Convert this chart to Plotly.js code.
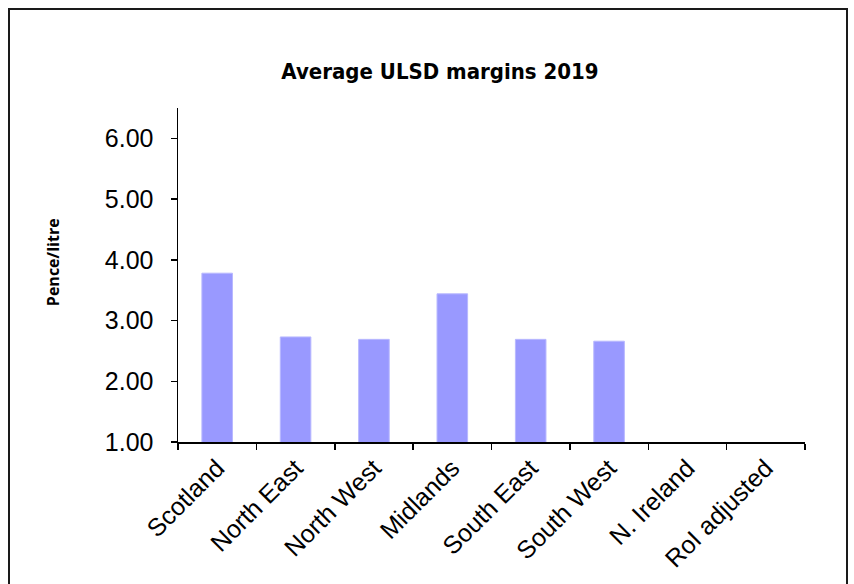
<!DOCTYPE html>
<html>
<head>
<meta charset="utf-8">
<script src="https://cdn.plot.ly/plotly-3.0.1.min.js"></script>
<style>html,body{margin:0;padding:0;background:#fff;}#chart{width:854px;height:584px;}</style>
</head>
<body>
<div id="chart"></div>
<script>
const categories = ["Scotland", "North East", "North West", "Midlands", "South East", "South West", "N. Ireland", "RoI adjusted"];
const margins = [3.78, 2.73, 2.69, 3.44, 2.69, 2.66, null, null];
const yTicks = [1, 2, 3, 4, 5, 6];
const yTickLabels = ["1.00", "2.00", "3.00", "4.00", "5.00", "6.00"];

const W = 854, H = 584;
const L = 178, R = 805, T = 108, B = 441.7;
const px = x => (x - L) / (R - L);
const py = y => (B - y) / (B - T);

const trace = {
  type: "bar",
  x: categories,
  y: margins,
  width: 0.39,
  marker: { color: "#9999ff", line: { color: "#b8b8ff", width: 1 } },
  hoverinfo: "x+y"
};

const layout = {
  width: W, height: H,
  margin: { l: L, r: W - R, t: T, b: H - B },
  paper_bgcolor: "#ffffff",
  plot_bgcolor: "#ffffff",
  showlegend: false,
  title: {
    text: "<b>Average ULSD margins 2019</b>",
    font: { family: "DejaVu Sans Condensed, Liberation Sans Narrow, sans-serif", size: 22, color: "#000" },
    x: 440 / W, xanchor: "center",
    y: 1 - 71 / H, yanchor: "middle"
  },
  xaxis: {
    type: "category",
    tickson: "boundaries",
    ticks: "outside", ticklen: 6, tickwidth: 1.5, tickcolor: "#000",
    showline: true, linecolor: "#000", linewidth: 1.5,
    showgrid: false, zeroline: false,
    tickangle: -45,
    tickfont: { family: "Liberation Sans, Arial, sans-serif", size: 25, color: "#000" },
    fixedrange: true
  },
  yaxis: {
    range: [1, 6.5],
    tickvals: yTicks, ticktext: yTickLabels,
    ticks: "outside", ticklen: 6, tickwidth: 1.5, tickcolor: "#000",
    ticklabelstandoff: 12,
    showline: true, linecolor: "#000", linewidth: 1.5,
    showgrid: false, zeroline: false,
    tickfont: { family: "Liberation Sans, Arial, sans-serif", size: 25, color: "#000" },
    fixedrange: true
  },
  annotations: [{
    text: "<b>Pence/litre</b>",
    xref: "paper", yref: "paper",
    x: px(53), y: py(262),
    xanchor: "center", yanchor: "middle",
    textangle: -90, showarrow: false,
    font: { family: "Open Sans, Noto Sans, sans-serif", size: 16, color: "#000" }
  }],
  shapes: [{
    type: "rect", xref: "paper", yref: "paper",
    x0: px(9), x1: px(847), y0: py(600), y1: py(9),
    line: { color: "#1a1a1a", width: 2 }, fillcolor: "rgba(0,0,0,0)", layer: "below"
  }]
};

Plotly.newPlot("chart", [trace], layout, { displayModeBar: false, staticPlot: true });
</script>
</body>
</html>
